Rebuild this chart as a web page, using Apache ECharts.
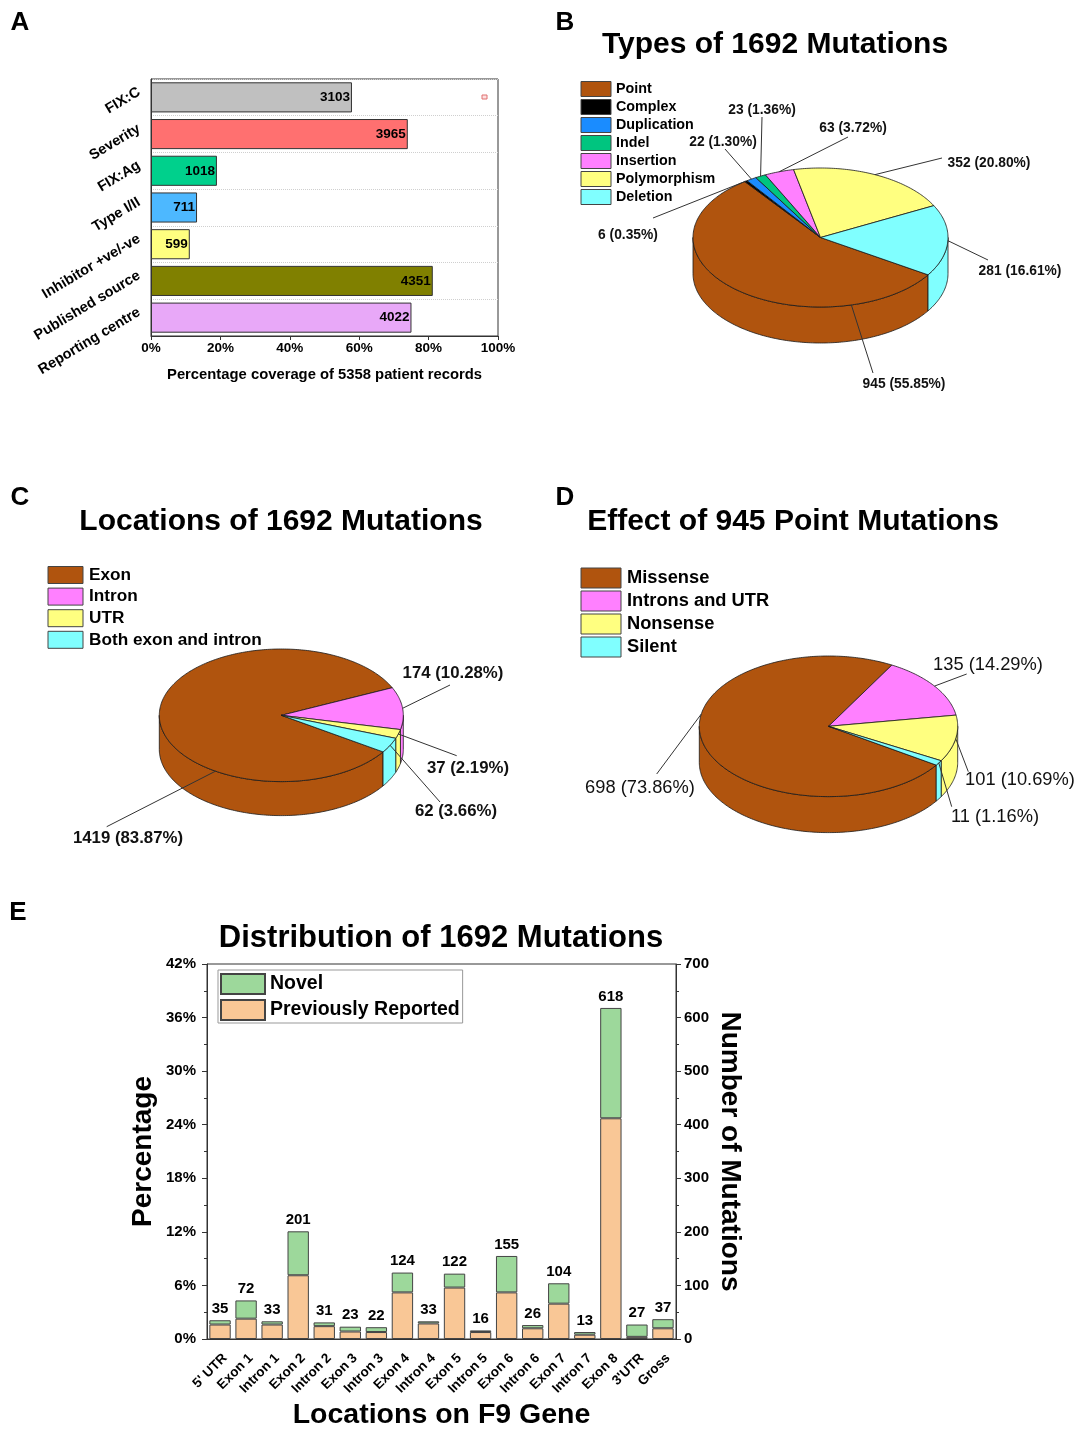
<!DOCTYPE html>
<html>
<head>
<meta charset="utf-8">
<script src="https://cdn.jsdelivr.net/npm/echarts@6/dist/echarts.min.js"></script>
<style>
html,body{margin:0;padding:0;background:#fff;}
#main{width:1078px;height:1431px;}
</style>
</head>
<body>
<div id="main"></div>
<script>
// A - coverage of patient records
var fieldNames = ['FIX:C', 'Severity', 'FIX:Ag', 'Type I/II', 'Inhibitor +ve/-ve', 'Published source', 'Reporting centre'];
var fieldCounts = [3103, 3965, 1018, 711, 599, 4351, 4022];
var totalRecords = 5358;

// B - types of mutations
var typeNames = ['Point', 'Complex', 'Duplication', 'Indel', 'Insertion', 'Polymorphism', 'Deletion'];
var typeCounts = [945, 6, 22, 23, 63, 352, 281];

// C - locations
var locTypeNames = ['Exon', 'Intron', 'UTR', 'Both exon and intron'];
var locTypeCounts = [1419, 174, 37, 62];

// D - effect of point mutations
var effectNames = ['Missense', 'Introns and UTR', 'Nonsense', 'Silent'];
var effectCounts = [698, 135, 101, 11];

// E - distribution on F9 gene
var geneRegions = ["5' UTR", 'Exon 1', 'Intron 1', 'Exon 2', 'Intron 2', 'Exon 3', 'Intron 3', 'Exon 4', 'Intron 4',
  'Exon 5', 'Intron 5', 'Exon 6', 'Intron 6', 'Exon 7', 'Intron 7', 'Exon 8', "3'UTR", 'Gross'];
var regionReported = [27, 38, 27, 119, 24, 14, 13, 87, 29, 96, 13, 87, 20, 66, 8, 412, 4, 20];
var regionNovel = [8, 34, 6, 82, 7, 9, 9, 37, 4, 26, 3, 68, 6, 38, 5, 206, 23, 17];

var FONT = "'Liberation Sans', Arial, Helvetica, sans-serif";
var fieldColors = ['#c0c0c0', '#ff7070', '#00d08c', '#4db8ff', '#ffff80', '#808000', '#e8a8f8'];
var pieColors = {
  brown: '#b0540e', black: '#000000', blue: '#1a8cff', green: '#00c57f',
  pink: '#ff80ff', yellow: '#ffff80', cyan: '#80ffff'
};
var typeColors = [pieColors.brown, pieColors.black, pieColors.blue, pieColors.green, pieColors.pink, pieColors.yellow, pieColors.cyan];
var locColors = [pieColors.brown, pieColors.pink, pieColors.yellow, pieColors.cyan];
var effectColors = [pieColors.brown, pieColors.pink, pieColors.yellow, pieColors.cyan];

// pie label placement (relative to pie centre): text pos, line end, optional anchor angle
var typeLabels = [
  {tx: 83.5, ty: 146.5, lx: 52.5, ly: 135.5, anchor: 76},
  {tx: -192.5, ty: -2.5, lx: -167.5, ly: -19.5},
  {tx: -97.5, ty: -95.5, lx: -95.5, ly: -88.5},
  {tx: -58.5, ty: -127.5, lx: -58.5, ly: -120.5},
  {tx: 32.5, ty: -109.5, lx: 27.5, ly: -100.5},
  {tx: 168.5, ty: -74.5, lx: 121.5, ly: -79.5},
  {tx: 199.5, ty: 33.5, lx: 167.5, ly: 22.5}
];
var locLabels = [
  {tx: -153.3, ty: 122.7, lx: -174.6, ly: 111.4, anchor: 122.6},
  {tx: 171.7, ty: -42.3, lx: 168.7, ly: -30.3},
  {tx: 186.7, ty: 52.7, lx: 175.4, ly: 40.4},
  {tx: 174.7, ty: 95.7, lx: 158.7, ly: 86.7}
];
var effectLabels = [
  {tx: -188.5, ty: 61.7, lx: -171.8, ly: 47.7, anchor: 190},
  {tx: 159.5, ty: -61.3, lx: 138.2, ly: -52.3},
  {tx: 191.5, ty: 53.7, lx: 139.8, ly: 45.4},
  {tx: 166.5, ty: 90.7, lx: 123.2, ly: 80.4}
];

// 3D-looking pie, drawn as custom series from the counts
function pieSeries(counts, colors, geo, labels, labelFont) {
  var total = 0;
  counts.forEach(function (v) { total += v; });
  var angles = [];
  var a = geo.start;
  counts.forEach(function (v) {
    var span = v / total * 360;
    angles.push([a, a + span]);
    a += span;
  });
  return {
    type: 'custom',
    coordinateSystem: 'none',
    silent: true,
    animation: false,
    data: counts,
    renderItem: function (params, api) {
      var i = params.dataIndex;
      var a0 = angles[i][0], a1 = angles[i][1];
      function pt(deg, dy) {
        var r = deg * Math.PI / 180;
        return [geo.cx + geo.rx * Math.cos(r), geo.cy + geo.ry * Math.sin(r) + (dy || 0)];
      }
      var kids = [];
      var edge = {stroke: '#1a1a1a', lineWidth: 0.8};
      // side wall, front half only
      [[0, 180], [360, 540]].forEach(function (w) {
        var s = Math.max(a0, w[0]), e = Math.min(a1, w[1]);
        if (e > s) {
          var top = [], bot = [];
          for (var t = s; t < e; t += 1) { top.push(pt(t)); bot.push(pt(t, geo.depth)); }
          top.push(pt(e)); bot.push(pt(e, geo.depth));
          kids.push({type: 'polygon', shape: {points: top.concat(bot.reverse())},
            style: {fill: colors[i], stroke: edge.stroke, lineWidth: edge.lineWidth}});
        }
      });
      // top face
      var face = [[geo.cx, geo.cy]];
      for (var t = a0; t < a1; t += 1) face.push(pt(t));
      face.push(pt(a1));
      kids.push({type: 'polygon', shape: {points: face},
        style: {fill: colors[i], stroke: edge.stroke, lineWidth: edge.lineWidth}});
      // label line + text
      var L = labels[i];
      var anc = pt(L.anchor != null ? L.anchor : (a0 + a1) / 2);
      kids.push({type: 'polyline', shape: {points: [anc, [geo.cx + L.lx, geo.cy + L.ly]]},
        style: {stroke: '#333', lineWidth: 1, fill: null}});
      kids.push({type: 'text', x: geo.cx + L.tx, y: geo.cy + L.ty,
        style: {text: counts[i] + ' (' + (counts[i] / total * 100).toFixed(2) + '%)',
          font: labelFont, fill: '#111', align: 'center', verticalAlign: 'middle',
          textAlign: 'center', textVerticalAlign: 'middle'}});
      return {type: 'group', children: kids};
    }
  };
}

function legendItems(names, colors, x, y, w, h, step, font, textX) {
  var out = [];
  names.forEach(function (n, i) {
    var cy = y + i * step;
    out.push({type: 'rect', shape: {x: x, y: cy - h / 2, width: w, height: h},
      style: {fill: colors[i], stroke: '#444', lineWidth: 1}});
    out.push({type: 'text', x: textX, y: cy,
      style: {text: n, font: font, fill: '#000', textAlign: 'left', textVerticalAlign: 'middle'}});
  });
  return out;
}

function txt(s, x, y, size, align) {
  return {type: 'text', x: x, y: y,
    style: {text: s, font: 'bold ' + size + 'px ' + FONT, fill: '#000',
      textAlign: align || 'center', textVerticalAlign: 'middle'}};
}

var regionTotals = regionReported.map(function (v, i) { return v + regionNovel[i]; });

var graphics = [
  txt('A', 20, 23, 26), txt('B', 565, 23, 26), txt('C', 20, 498, 26), txt('D', 565, 498, 26), txt('E', 18, 913, 26),
  txt('Types of 1692 Mutations', 775, 45, 30),
  txt('Locations of 1692 Mutations', 281, 522, 30),
  txt('Effect of 945 Point Mutations', 793, 522, 30),
  txt('Distribution of 1692 Mutations', 441, 938, 31),
  {type: 'rect', shape: {x: 482, y: 95, width: 5, height: 4}, style: {fill: '#fde0e0', stroke: '#e07070', lineWidth: 1}}
];
graphics = graphics
  .concat(legendItems(typeNames, typeColors, 581, 89, 30, 15, 18, 'bold 14.3px ' + FONT, 616))
  .concat(legendItems(locTypeNames, locColors, 48, 575, 35, 17, 21.6, 'bold 17.2px ' + FONT, 89))
  .concat(legendItems(effectNames, effectColors, 581, 578, 40, 20, 23, 'bold 18.3px ' + FONT, 627));

var axisLineStyle = {color: '#333', width: 1};

var option = {
  animation: false,
  backgroundColor: '#fff',
  textStyle: {fontFamily: FONT},
  grid: [
    {left: 151, top: 79, width: 347, height: 257, show: true, borderColor: '#333', borderWidth: 1},
    {left: 207, top: 964, width: 469, height: 377, show: true, borderColor: '#333', borderWidth: 1}
  ],
  legend: {
    data: ['Novel', 'Previously Reported'],
    orient: 'vertical', left: 218, top: 970,
    itemWidth: 44, itemHeight: 20, itemGap: 4, icon: 'rect',
    borderColor: '#999', borderWidth: 1, padding: [3, 3, 2, 2],
    textStyle: {fontWeight: 'bold', fontSize: 19.5, color: '#000', fontFamily: FONT}
  },
  xAxis: [
    {
      gridIndex: 0, type: 'value', min: 0, max: 100, interval: 20,
      name: 'Percentage coverage of 5358 patient records', nameLocation: 'middle', nameGap: 31,
      nameTextStyle: {fontWeight: 'bold', fontSize: 14.8, color: '#000'},
      axisLine: {show: true, lineStyle: axisLineStyle},
      axisTick: {show: true, length: 4, lineStyle: axisLineStyle},
      axisLabel: {formatter: '{value}%', fontWeight: 'bold', fontSize: 13.5, color: '#000', margin: 5},
      splitLine: {show: false}
    },
    {
      gridIndex: 1, type: 'category', data: geneRegions,
      name: 'Locations on F9 Gene', nameLocation: 'middle', nameGap: 62,
      nameTextStyle: {fontWeight: 'bold', fontSize: 28.5, color: '#000'},
      axisLine: {lineStyle: axisLineStyle},
      axisTick: {alignWithLabel: true, length: 6, lineStyle: axisLineStyle},
      axisLabel: {interval: 0, rotate: 45, verticalAlign: 'top', fontWeight: 'bold', fontSize: 13.5, color: '#000', margin: 12}
    }
  ],
  yAxis: [
    {
      gridIndex: 0, type: 'category', data: fieldNames, inverse: true,
      axisLine: {lineStyle: axisLineStyle},
      axisTick: {show: false},
      axisLabel: {rotate: 31, verticalAlign: 'bottom', fontWeight: 'bold', fontSize: 14.5, color: '#000', margin: 8},
      splitLine: {show: true, lineStyle: {type: 'dotted', color: '#cfcfcf'}}
    },
    {
      gridIndex: 1, type: 'value', min: 0, max: 42, interval: 6, position: 'left',
      name: 'Percentage', nameLocation: 'middle', nameGap: 50,
      nameTextStyle: {fontWeight: 'bold', fontSize: 28, color: '#000'},
      axisLine: {show: true, lineStyle: axisLineStyle},
      axisTick: {show: true, length: 5, lineStyle: axisLineStyle},
      minorTick: {show: true, splitNumber: 2, length: 3, lineStyle: axisLineStyle},
      axisLabel: {formatter: '{value}%', fontWeight: 'bold', fontSize: 15, color: '#000', margin: 11},
      splitLine: {show: false}
    },
    {
      gridIndex: 1, type: 'value', min: 0, max: 700, interval: 100, position: 'right',
      name: 'Number of Mutations', nameLocation: 'middle', nameGap: 40, nameRotate: -90,
      nameTextStyle: {fontWeight: 'bold', fontSize: 28, color: '#000'},
      axisLine: {show: true, lineStyle: axisLineStyle},
      axisTick: {show: true, length: 5, lineStyle: axisLineStyle},
      minorTick: {show: true, splitNumber: 2, length: 3, lineStyle: axisLineStyle},
      axisLabel: {fontWeight: 'bold', fontSize: 15, color: '#000', margin: 8},
      splitLine: {show: false}
    }
  ],
  graphic: graphics,
  series: [
    {
      type: 'bar', xAxisIndex: 0, yAxisIndex: 0,
      data: fieldCounts.map(function (c, i) {
        return {value: c / totalRecords * 100, itemStyle: {color: fieldColors[i]}};
      }),
      barCategoryGap: '18%',
      itemStyle: {borderColor: '#333', borderWidth: 1},
      label: {
        show: true, position: 'insideRight', distance: 2,
        formatter: function (p) { return fieldCounts[p.dataIndex]; },
        fontWeight: 'bold', fontSize: 13.5, color: '#000'
      }
    },
    {
      name: 'Previously Reported', type: 'bar', xAxisIndex: 1, yAxisIndex: 2, stack: 'loc',
      data: regionReported, barWidth: '82%',
      itemStyle: {color: '#f9c796', borderColor: '#444', borderWidth: 1}
    },
    {
      name: 'Novel', type: 'bar', xAxisIndex: 1, yAxisIndex: 2, stack: 'loc',
      data: regionNovel, barWidth: '82%',
      itemStyle: {color: '#9dd89b', borderColor: '#444', borderWidth: 1},
      label: {
        show: true, position: 'top', distance: 4,
        formatter: function (p) { return regionTotals[p.dataIndex]; },
        fontWeight: 'bold', fontSize: 15, color: '#000'
      }
    },
    pieSeries(typeCounts, typeColors, {cx: 820.5, cy: 237.5, rx: 127.5, ry: 69.5, depth: 36, start: 32.5},
      typeLabels, 'bold 13.8px ' + FONT),
    pieSeries(locTypeCounts, locColors, {cx: 281.3, cy: 715.3, rx: 122, ry: 66.3, depth: 34, start: 33.5},
      locLabels, 'bold 16.8px ' + FONT),
    pieSeries(effectCounts, effectColors, {cx: 828.5, cy: 726.3, rx: 129.2, ry: 70.3, depth: 36, start: 33.5},
      effectLabels, '18.3px ' + FONT)
  ]
};

var chart = echarts.init(document.getElementById('main'));
chart.setOption(option);
</script>
</body>
</html>
